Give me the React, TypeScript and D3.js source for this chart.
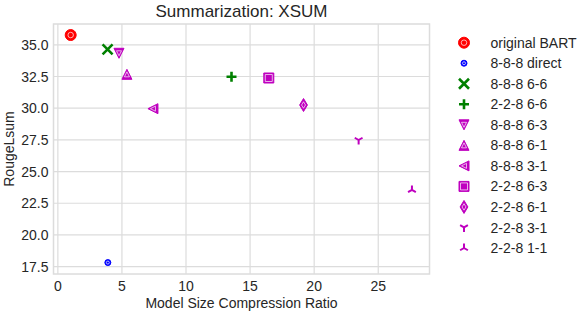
import * as d3 from 'd3';
import React from 'react';

// series
const names = [
  'original BART', '8-8-8 direct', '8-8-8 6-6', '2-2-8 6-6', '8-8-8 6-3',
  '8-8-8 6-1', '8-8-8 3-1', '2-2-8 6-3', '2-2-8 6-1', '2-2-8 3-1', '2-2-8 1-1',
];
const ratios = [1.0, 3.9, 3.88, 13.55, 4.77, 5.39, 7.42, 16.46, 19.17, 23.47, 27.63];
const rouge = [35.77, 17.82, 34.64, 32.48, 34.33, 32.67, 29.96, 32.38, 30.25, 27.49, 23.55];
const xTicks = [0, 5, 10, 15, 20, 25];
const yTicks = [17.5, 20.0, 22.5, 25.0, 27.5, 30.0, 32.5, 35.0];

// marker style per series
const markers = ['circle', 'circle', 'x', 'plus', 'down', 'up', 'left', 'square', 'diamond', 'tri_down', 'tri_up'];
const colors = ['#ff0000', '#0000ff', '#008000', '#008000', '#bf00bf', '#bf00bf', '#bf00bf', '#bf00bf', '#bf00bf', '#bf00bf', '#bf00bf'];
const radii = [5.5, 3, 5, 5, 5, 5, 5, 5, 6.5, 4.5, 4.5];

const W = 580, H = 312;
const left = 53.5, right = 429.5, top = 24, bottom = 274;
const txt = '#262626';
const grid = '#dcdcdc';
const font = '"Liberation Sans", Arial, sans-serif';

function shapePath(kind: string, r: number) {
  const p = d3.path();
  const poly = (pts: number[][]) => {
    p.moveTo(pts[0][0], pts[0][1]);
    pts.slice(1).forEach(q => p.lineTo(q[0], q[1]));
    p.closePath();
  };
  if (kind === 'circle') p.arc(0, 0, r, 0, Math.PI * 2);
  else if (kind === 'up') poly([[0, -r], [r, r], [-r, r]]);
  else if (kind === 'down') poly([[0, r], [r, -r], [-r, -r]]);
  else if (kind === 'left') poly([[-r, 0], [r, -r], [r, r]]);
  else if (kind === 'square') poly([[-r, -r], [r, -r], [r, r], [-r, r]]);
  else if (kind === 'diamond') poly([[0, -r], [0.6 * r, 0], [0, r], [-0.6 * r, 0]]);
  return p.toString();
}

function linePath(kind: string, r: number) {
  const p = d3.path();
  const spoke = (a: number) => { p.moveTo(0, 0); p.lineTo(r * Math.cos(a), r * Math.sin(a)); };
  if (kind === 'plus') { p.moveTo(-r, 0); p.lineTo(r, 0); p.moveTo(0, -r); p.lineTo(0, r); }
  else if (kind === 'x') { p.moveTo(-r, -r); p.lineTo(r, r); p.moveTo(-r, r); p.lineTo(r, -r); }
  else if (kind === 'tri_down') { spoke(Math.PI / 2); spoke(-Math.PI / 6); spoke(-5 * Math.PI / 6); }
  else if (kind === 'tri_up') { spoke(-Math.PI / 2); spoke(Math.PI / 6); spoke(5 * Math.PI / 6); }
  return p.toString();
}

function Marker({ i, x, y }: { i: number; x: number; y: number }) {
  const kind = markers[i], c = colors[i], r = radii[i];
  if (['plus', 'x', 'tri_down', 'tri_up'].includes(kind)) {
    return <path transform={`translate(${x},${y})`} d={linePath(kind, r)} fill="none" stroke={c}
      strokeWidth={kind === 'x' || kind === 'plus' ? 2.6 : 2} />;
  }
  const inner = kind === 'square' ? 0.7 : 0.5;
  return (
    <g transform={`translate(${x},${y})`}>
      <path d={shapePath(kind, r)} fill={c} stroke={c} strokeWidth={1} />
      <path d={shapePath(kind, r * inner)} fill="none" stroke="#fff" strokeWidth={0.8} opacity={0.85} />
    </g>
  );
}

export default function App() {
  const x = d3.scaleLinear().domain([-0.34, 29.0]).range([left, right]);
  const y = d3.scaleLinear().domain([16.92, 36.64]).range([bottom, top]);

  return (
    <svg width={W} height={H} style={{ position: 'absolute', left: 0, top: 0 }} fontFamily={font}>
      <rect width={W} height={H} fill="#fff" />
      <text x={(left + right) / 2} y={17} textAnchor="middle" fontSize={17} fill={txt}>Summarization: XSUM</text>

      {xTicks.map(t => (
        <g key={'x' + t}>
          <line x1={x(t)} x2={x(t)} y1={top} y2={bottom} stroke={grid} strokeWidth={1.2} />
          <text x={x(t)} y={291} textAnchor="middle" fontSize={14} fill={txt}>{t}</text>
        </g>
      ))}
      {yTicks.map(t => (
        <g key={'y' + t}>
          <line x1={left} x2={right} y1={y(t)} y2={y(t)} stroke={grid} strokeWidth={1.2} />
          <text x={48.5} y={y(t)} dy="0.36em" textAnchor="end" fontSize={14} fill={txt}>{t.toFixed(1)}</text>
        </g>
      ))}
      <rect x={left} y={top} width={right - left} height={bottom - top} fill="none" stroke={grid} strokeWidth={1.5} />

      <text x={(left + right) / 2} y={308} textAnchor="middle" fontSize={14} fill={txt}>Model Size Compression Ratio</text>
      <text transform={`translate(14,${(top + bottom) / 2}) rotate(-90)`} textAnchor="middle" fontSize={14} fill={txt}>RougeLsum</text>

      {names.map((n, i) => <Marker key={n} i={i} x={x(ratios[i])} y={y(rouge[i])} />)}

      {names.map((n, i) => (
        <g key={'l' + n}>
          <Marker i={i} x={464} y={42.7 + i * 20.53} />
          <text x={490.5} y={42.7 + i * 20.53} dy="0.36em" fontSize={14} fill={txt}>{n}</text>
        </g>
      ))}
    </svg>
  );
}
